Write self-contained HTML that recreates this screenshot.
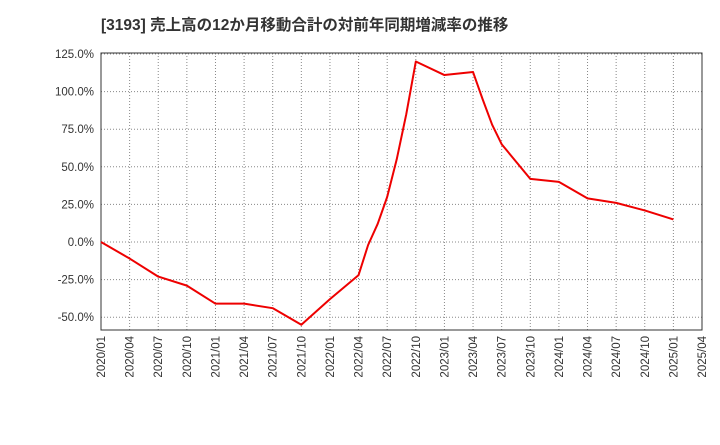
<!DOCTYPE html>
<html><head><meta charset="utf-8"><style>
body{margin:0;background:#fff;}
svg text{font-family:"Liberation Sans","Noto Sans CJK JP",sans-serif;}
</style></head><body>
<svg id="c" width="720" height="440"></svg>
<script>
const xTicks=["2020/01","2020/04","2020/07","2020/10","2021/01","2021/04","2021/07","2021/10","2022/01","2022/04","2022/07","2022/10","2023/01","2023/04","2023/07","2023/10","2024/01","2024/04","2024/07","2024/10","2025/01","2025/04"];
const yTicks=[-50,-25,0,25,50,75,100,125];
const monthIdx=[0,3,6,9,12,15,18,21,24,27,28,29,30,31,32,33,36,39,40,41,42,45,48,51,54,57,60];
const values=[0,-11,-23,-29,-41,-41,-44,-55,-38,-22,-2,12,30,55,85,120,111,113,95,78,65,42,40,29,26,21,15];
const svg=document.getElementById('c');
const NS='http://www.w3.org/2000/svg';
const L=101,R=702,T=53,B=330;
const x=m=>L+(R-L)*m/63;
const y=v=>242-v*1.504;
function el(t,a){const e=document.createElementNS(NS,t);for(const k in a)e.setAttribute(k,a[k]);svg.appendChild(e);return e;}
let t=el('text',{x:101,y:30,'font-size':15.5,'font-weight':'bold',fill:'#333'});


t.textContent='[3193]  売上高の12か月移動合計の対前年同期増減率の推移';
xTicks.forEach((lb,i)=>{const px=x(i*3);
 const g=el('line',{x1:px,x2:px,y1:T,y2:B,stroke:'#888','stroke-dasharray':'1,2','stroke-width':1});
 
 
 const tx=el('text',{x:0,y:0,'font-size':11.5,fill:'#333','text-anchor':'end',transform:`translate(${px+4},${B+6}) rotate(-90)`});
 
 
 tx.textContent=lb;});
yTicks.forEach(v=>{const py=y(v);
 const g=el('line',{x1:L,x2:R,y1:py,y2:py,stroke:'#888','stroke-dasharray':'1,2','stroke-width':1});
 
 
 const tx=el('text',{x:L-7,y:py+4,'font-size':11.5,fill:'#333','text-anchor':'end'});
 
 
 tx.textContent=v.toFixed(1)+'%';});
const fr=el('rect',{x:L,y:T,width:R-L,height:B-T,fill:'none',stroke:'#333','stroke-width':1});


const ln=el('polyline',{points:monthIdx.map((m,i)=>x(m)+','+y(values[i])).join(' '),fill:'none',stroke:'#e00','stroke-width':2,'stroke-linejoin':'round'});


</script>
</body></html>
